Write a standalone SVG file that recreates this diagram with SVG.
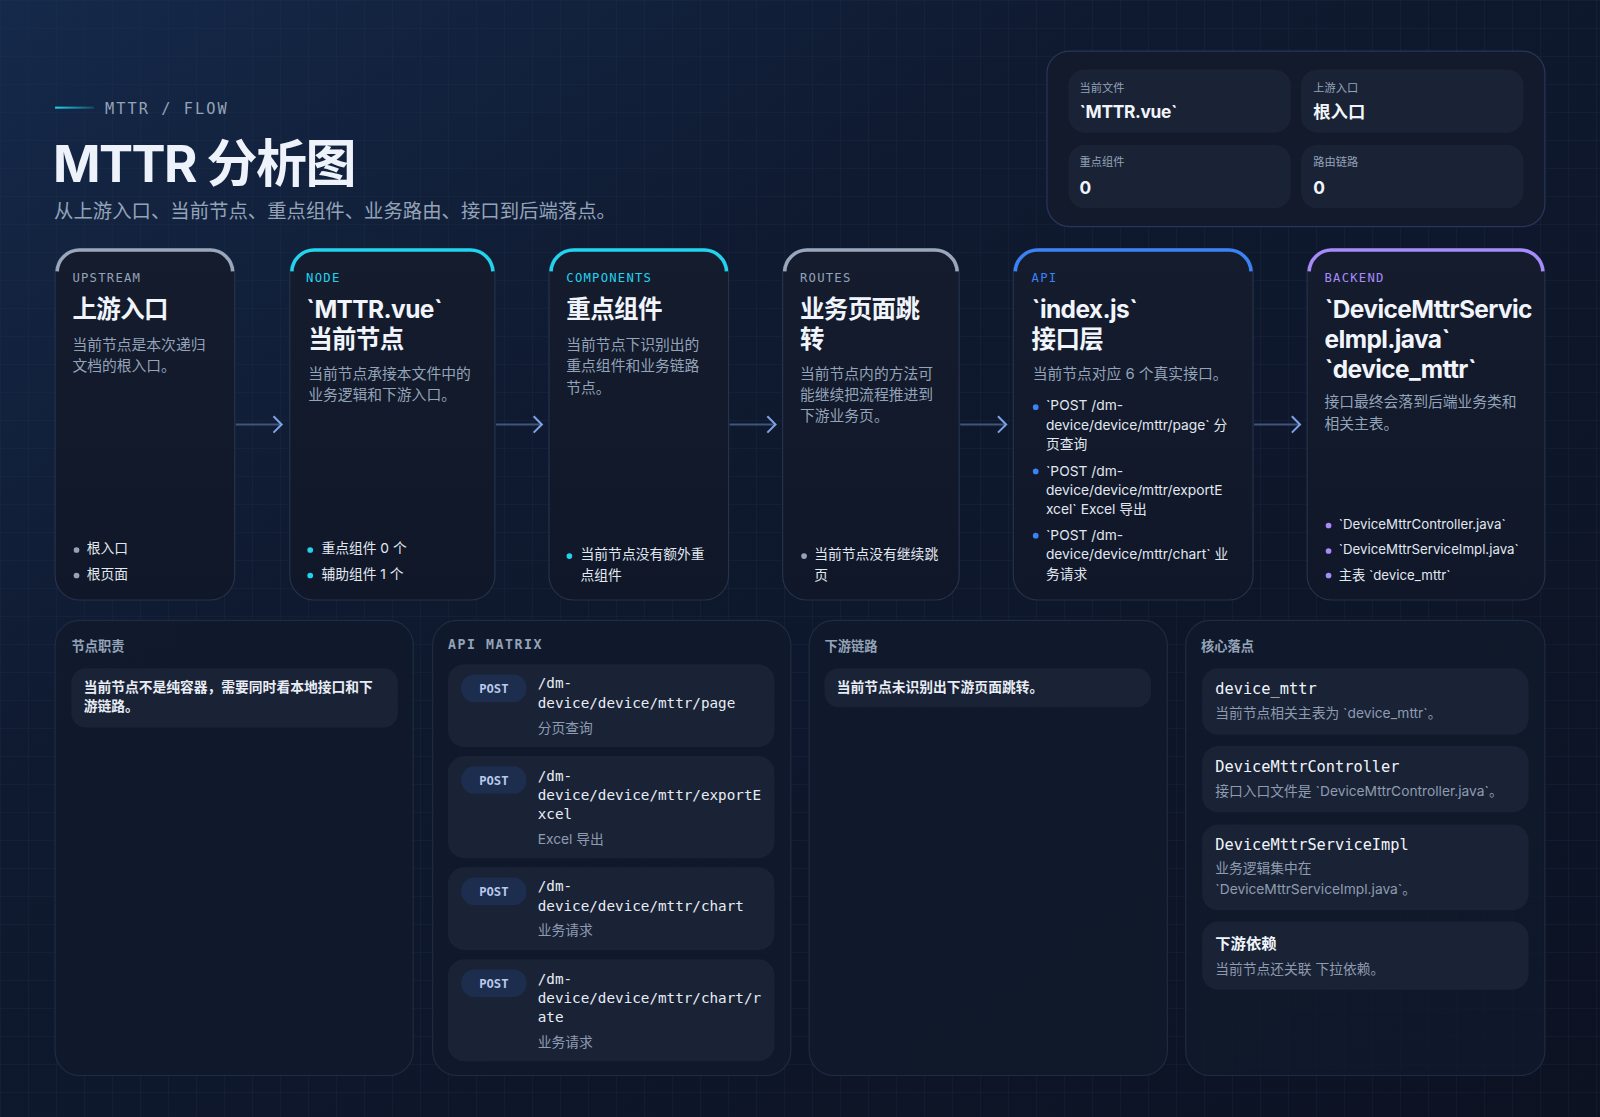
<svg xmlns="http://www.w3.org/2000/svg" width="1600" height="1117" viewBox="0 0 1600 1117">
<defs>
<linearGradient id="bg" x1="0" y1="0" x2="1" y2="1"><stop offset="0" stop-color="#15294a"/><stop offset="0.35" stop-color="#0f1a30"/><stop offset="1" stop-color="#0c1222"/></linearGradient>
<pattern id="grid" width="28" height="28" patternUnits="userSpaceOnUse"><path d="M28 0H0V28" fill="none" stroke="#22324f" stroke-opacity="0.45" stroke-width="1"/></pattern>
<linearGradient id="card" x1="0" y1="0" x2="0" y2="1"><stop offset="0" stop-color="#141c2e"/><stop offset="1" stop-color="#0f1729"/></linearGradient>
<linearGradient id="tick" x1="0" x2="1"><stop offset="0" stop-color="#22d3ee"/><stop offset="1" stop-color="#22d3ee" stop-opacity="0.2"/></linearGradient>
<marker id="arr" markerWidth="12" markerHeight="20" refX="10" refY="10" orient="auto" markerUnits="userSpaceOnUse"><path d="M2 2L10 10L2 18" fill="none" stroke="#7ea2e6" stroke-width="2"/></marker>
<style>
.s{font-family:Inter,"Noto Sans CJK SC","Noto Sans",sans-serif}
.m{font-family:"DejaVu Sans Mono","Liberation Mono",monospace}
.card{fill:url(#card);stroke:#24324a;stroke-width:1.2}
.lab{font-size:12px;letter-spacing:1.2px}
.ttl{font-size:24px;font-weight:700;fill:#f1f5fb;letter-spacing:-0.6px}
.dsc{font-size:14.5px;fill:#94a3b8}
.li{font-size:13.5px;fill:#e2e8f0}
.panel{fill:#111a2c;fill-opacity:0.85;stroke:#1f2b42;stroke-width:1.2}
.inner{fill:#1a2336}
.ph{font-size:13px;font-weight:700;fill:#94a3b8}
.pill{fill:#1d2d4d}
.pt{font-size:12px;font-weight:700;fill:#b8c9ea}
.path{font-size:14px;fill:#e8edf5}
.sub{font-size:13.5px;fill:#8e9bb0}
</style>
</defs>
<rect width="1600" height="1117" fill="url(#bg)"/>
<rect width="1600" height="1117" fill="url(#grid)"/>
<g transform="scale(1.0204)">
<g id="header">
<rect x="54" y="104.5" width="38" height="2" fill="url(#tick)"/>
<text x="103" y="112" class="m" font-size="15" letter-spacing="2" fill="#94a3b8">MTTR / FLOW</text>
<text x="52" y="178" class="s" font-size="50" font-weight="700" fill="#eef2fa" letter-spacing="-1.5">MTTR 分析图</text>
<text x="53" y="214" class="s" font-size="19" fill="#94a3b8">从上游入口、当前节点、重点组件、业务路由、接口到后端落点。</text>
</g>
<g id="stats">
<rect x="1026" y="50" width="488" height="172" rx="22" fill="#121a2c" stroke="#27365a" stroke-width="1.2"/>
<rect x="1047" y="68" width="218" height="62" rx="16" class="inner"/>
<rect x="1275" y="68" width="218" height="62" rx="16" class="inner"/>
<rect x="1047" y="142" width="218" height="62" rx="16" class="inner"/>
<rect x="1275" y="142" width="218" height="62" rx="16" class="inner"/>
<text x="1058" y="90" class="s" font-size="11" fill="#94a3b8">当前文件</text>
<text x="1058" y="116" class="s" font-size="17" font-weight="700" fill="#f1f5fb" letter-spacing="-0.3">`MTTR.vue`</text>
<text x="1287" y="90" class="s" font-size="11" fill="#94a3b8">上游入口</text>
<text x="1287" y="116" class="s" font-size="17" font-weight="700" fill="#f1f5fb">根入口</text>
<text x="1058" y="163" class="s" font-size="11" fill="#94a3b8">重点组件</text>
<text x="1058" y="190" class="s" font-size="17" font-weight="700" fill="#f1f5fb">0</text>
<text x="1287" y="163" class="s" font-size="11" fill="#94a3b8">路由链路</text>
<text x="1287" y="190" class="s" font-size="17" font-weight="700" fill="#f1f5fb">0</text>
</g>
<g id="connectors" fill="none" stroke="#41557a" stroke-width="2" marker-end="url(#arr)">
<line x1="231" y1="416" x2="276" y2="416"/>
<line x1="486" y1="416" x2="531" y2="416"/>
<line x1="715" y1="416" x2="760" y2="416"/>
<line x1="941" y1="416" x2="986" y2="416"/>
<line x1="1229" y1="416" x2="1274" y2="416"/>
</g>
<g id="upstream">
<rect x="54" y="244" width="176" height="344" rx="24" class="card"/>
<path d="M56 266A22 22 0 0 1 78 245H206A22 22 0 0 1 228 266" fill="none" stroke="#9aa7ba" stroke-width="3.5"/>
<text x="71" y="276" class="m lab" fill="#94a3b8">UPSTREAM</text>
<text x="71" y="312" class="s ttl">上游入口</text>
<text class="s dsc"><tspan x="71" y="343">当前节点是本次递归</tspan><tspan x="71" y="364">文档的根入口。</tspan></text>
<circle cx="75" cy="539" r="2.8" fill="#94a3b8"/><text x="85" y="542" class="s li">根入口</text>
<circle cx="75" cy="564" r="2.8" fill="#94a3b8"/><text x="85" y="567" class="s li">根页面</text>
</g>
<g id="node">
<rect x="284" y="244" width="201" height="344" rx="24" class="card"/>
<path d="M286 266A22 22 0 0 1 308 245H461A22 22 0 0 1 483 266" fill="none" stroke="#22d3ee" stroke-width="3.5"/>
<text x="300" y="276" class="m lab" fill="#22d3ee">NODE</text>
<text x="300" y="312" class="s ttl">`MTTR.vue`</text>
<text x="302" y="341" class="s ttl">当前节点</text>
<text class="s dsc"><tspan x="302" y="371">当前节点承接本文件中的</tspan><tspan x="302" y="392">业务逻辑和下游入口。</tspan></text>
<circle cx="304" cy="539" r="2.8" fill="#22d3ee"/><text x="315" y="542" class="s li">重点组件 0 个</text>
<circle cx="304" cy="564" r="2.8" fill="#22d3ee"/><text x="315" y="567" class="s li">辅助组件 1 个</text>
</g>
<g id="components">
<rect x="538" y="244" width="176" height="344" rx="24" class="card"/>
<path d="M540 266A22 22 0 0 1 562 245H690A22 22 0 0 1 712 266" fill="none" stroke="#22d3ee" stroke-width="3.5"/>
<text x="555" y="276" class="m lab" fill="#22d3ee">COMPONENTS</text>
<text x="555" y="312" class="s ttl">重点组件</text>
<text class="s dsc"><tspan x="555" y="343">当前节点下识别出的</tspan><tspan x="555" y="364">重点组件和业务链路</tspan><tspan x="555" y="385">节点。</tspan></text>
<circle cx="558" cy="545" r="2.8" fill="#22d3ee"/><text x="569" y="548" class="s li"><tspan>当前节点没有额外重</tspan><tspan x="569" y="568">点组件</tspan></text>
</g>
<g id="routes">
<rect x="767" y="244" width="173" height="344" rx="24" class="card"/>
<path d="M769 266A22 22 0 0 1 791 245H916A22 22 0 0 1 938 266" fill="none" stroke="#9aa7ba" stroke-width="3.5"/>
<text x="784" y="276" class="m lab" fill="#94a3b8">ROUTES</text>
<text class="s ttl"><tspan x="784" y="312">业务页面跳</tspan><tspan x="784" y="341">转</tspan></text>
<text class="s dsc"><tspan x="784" y="371">当前节点内的方法可</tspan><tspan x="784" y="392">能继续把流程推进到</tspan><tspan x="784" y="413">下游业务页。</tspan></text>
<circle cx="788" cy="545" r="2.8" fill="#94a3b8"/><text x="798" y="548" class="s li"><tspan>当前节点没有继续跳</tspan><tspan x="798" y="568">页</tspan></text>
</g>
<g id="api">
<rect x="993" y="244" width="235" height="344" rx="24" class="card"/>
<path d="M995 266A22 22 0 0 1 1017 245H1204A22 22 0 0 1 1226 266" fill="none" stroke="#3b82f6" stroke-width="3.5"/>
<text x="1011" y="276" class="m lab" fill="#3b82f6">API</text>
<text x="1011" y="312" class="s ttl">`index.js`</text>
<text x="1011" y="341" class="s ttl">接口层</text>
<text x="1012" y="371" class="s dsc">当前节点对应 6 个真实接口。</text>
<g class="s li">
<circle cx="1015" cy="399" r="2.8" fill="#3b82f6"/><text><tspan x="1025" y="402">`POST /dm-</tspan><tspan x="1025" y="421">device/device/mttr/page` 分</tspan><tspan x="1025" y="440">页查询</tspan></text>
<circle cx="1015" cy="462" r="2.8" fill="#3b82f6"/><text><tspan x="1025" y="466">`POST /dm-</tspan><tspan x="1025" y="485">device/device/mttr/exportE</tspan><tspan x="1025" y="504">xcel` Excel 导出</tspan></text>
<circle cx="1015" cy="525" r="2.8" fill="#3b82f6"/><text><tspan x="1025" y="529">`POST /dm-</tspan><tspan x="1025" y="548">device/device/mttr/chart` 业</tspan><tspan x="1025" y="567">务请求</tspan></text>
</g>
</g>
<g id="backend">
<rect x="1281" y="244" width="233" height="344" rx="24" class="card"/>
<path d="M1283 266A22 22 0 0 1 1305 245H1490A22 22 0 0 1 1512 266" fill="none" stroke="#a78bfa" stroke-width="3.5"/>
<text x="1298" y="276" class="m lab" fill="#a78bfa">BACKEND</text>
<text class="s ttl"><tspan x="1298" y="312">`DeviceMttrServic</tspan><tspan x="1298" y="341">eImpl.java`</tspan><tspan x="1298" y="370">`device_mttr`</tspan></text>
<text class="s dsc"><tspan x="1298" y="399">接口最终会落到后端业务类和</tspan><tspan x="1298" y="420">相关主表。</tspan></text>
<g class="s" font-size="13" fill="#e2e8f0">
<circle cx="1302" cy="515" r="2.8" fill="#a78bfa"/><text x="1312" y="518">`DeviceMttrController.java`</text>
<circle cx="1302" cy="540" r="2.8" fill="#a78bfa"/><text x="1312" y="543">`DeviceMttrServiceImpl.java`</text>
<circle cx="1302" cy="564" r="2.8" fill="#a78bfa"/><text x="1312" y="568">主表 `device_mttr`</text>
</g>
</g>
<g id="duties">
<rect x="54" y="608" width="351" height="446" rx="24" class="panel"/>
<text x="70" y="638" class="s ph">节点职责</text>
<rect x="70" y="655" width="320" height="58" rx="14" class="inner"/>
<text class="s" font-size="13.5" font-weight="600" fill="#e8edf5"><tspan x="82" y="678">当前节点不是纯容器，需要同时看本地接口和下</tspan><tspan x="82" y="697">游链路。</tspan></text>
</g>
<g id="apimatrix">
<rect x="424" y="608" width="351" height="446" rx="24" class="panel"/>
<text x="439" y="636" class="m ph" letter-spacing="1.5">API MATRIX</text>
<rect x="439" y="651" width="320" height="81" rx="16" class="inner"/>
<rect x="452" y="661" width="64" height="27" rx="13" class="pill"/><text x="484" y="679" text-anchor="middle" class="m pt">POST</text>
<text class="m path"><tspan x="527" y="674">/dm-</tspan><tspan x="527" y="694">device/device/mttr/page</tspan></text>
<text x="527" y="718" class="s sub">分页查询</text>
<rect x="439" y="741" width="320" height="100" rx="16" class="inner"/>
<rect x="452" y="751" width="64" height="27" rx="13" class="pill"/><text x="484" y="769" text-anchor="middle" class="m pt">POST</text>
<text class="m path"><tspan x="527" y="765">/dm-</tspan><tspan x="527" y="784">device/device/mttr/exportE</tspan><tspan x="527" y="803">xcel</tspan></text>
<text x="527" y="827" class="s sub">Excel 导出</text>
<rect x="439" y="850" width="320" height="81" rx="16" class="inner"/>
<rect x="452" y="860" width="64" height="27" rx="13" class="pill"/><text x="484" y="878" text-anchor="middle" class="m pt">POST</text>
<text class="m path"><tspan x="527" y="873">/dm-</tspan><tspan x="527" y="893">device/device/mttr/chart</tspan></text>
<text x="527" y="916" class="s sub">业务请求</text>
<rect x="439" y="940" width="320" height="100" rx="16" class="inner"/>
<rect x="452" y="950" width="64" height="27" rx="13" class="pill"/><text x="484" y="968" text-anchor="middle" class="m pt">POST</text>
<text class="m path"><tspan x="527" y="964">/dm-</tspan><tspan x="527" y="983">device/device/mttr/chart/r</tspan><tspan x="527" y="1002">ate</tspan></text>
<text x="527" y="1026" class="s sub">业务请求</text>
</g>
<g id="downstream">
<rect x="793" y="608" width="351" height="446" rx="24" class="panel"/>
<text x="808" y="638" class="s ph">下游链路</text>
<rect x="808" y="655" width="320" height="38" rx="14" class="inner"/>
<text x="820" y="678" class="s" font-size="13.5" font-weight="600" fill="#e8edf5">当前节点未识别出下游页面跳转。</text>
</g>
<g id="core">
<rect x="1162" y="608" width="352" height="446" rx="24" class="panel"/>
<text x="1177" y="638" class="s ph">核心落点</text>
<rect x="1178" y="655" width="320" height="65" rx="16" class="inner"/>
<text x="1191" y="680" class="m" font-size="15" fill="#f1f5fb">device_mttr</text>
<text x="1191" y="704" class="s sub">当前节点相关主表为 `device_mttr`。</text>
<rect x="1178" y="731" width="320" height="65" rx="16" class="inner"/>
<text x="1191" y="757" class="m" font-size="15" fill="#f1f5fb">DeviceMttrController</text>
<text x="1191" y="780" class="s sub">接口入口文件是 `DeviceMttrController.java`。</text>
<rect x="1178" y="808" width="320" height="84" rx="16" class="inner"/>
<text x="1191" y="833" class="m" font-size="15" fill="#f1f5fb">DeviceMttrServiceImpl</text>
<text class="s sub"><tspan x="1191" y="856">业务逻辑集中在</tspan><tspan x="1191" y="876">`DeviceMttrServiceImpl.java`。</tspan></text>
<rect x="1178" y="903" width="320" height="67" rx="16" class="inner"/>
<text x="1191" y="930" class="s" font-size="15" font-weight="700" fill="#f1f5fb">下游依赖</text>
<text x="1191" y="955" class="s sub">当前节点还关联 下拉依赖。</text>
</g>
</g>
</svg>
